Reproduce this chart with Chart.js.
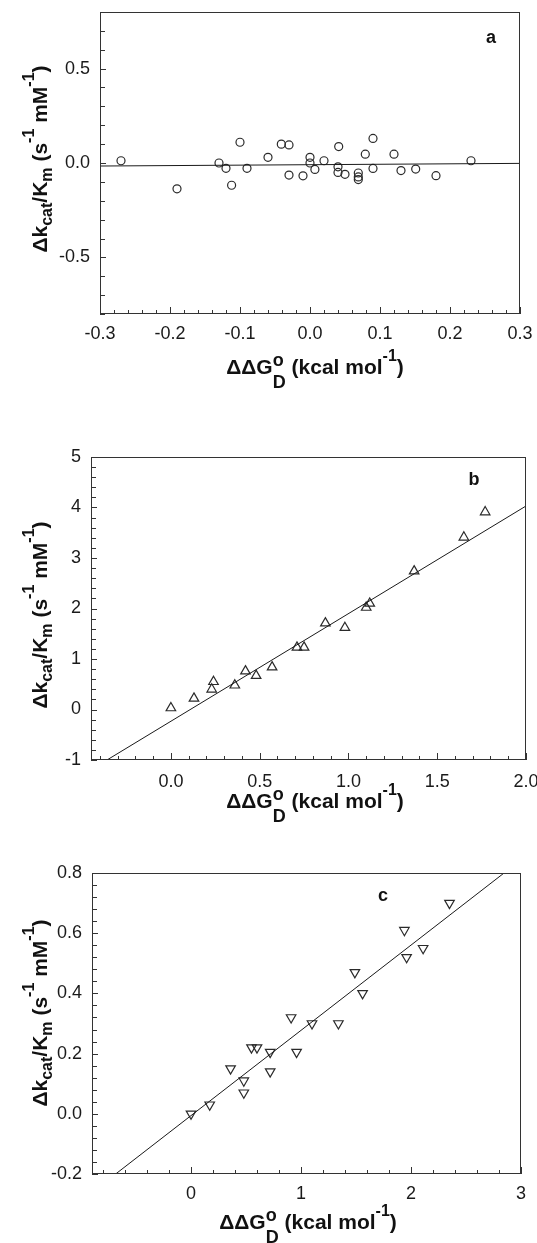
<!DOCTYPE html>
<html>
<head>
<meta charset="utf-8">
<script src="https://cdn.jsdelivr.net/npm/chart.js@4.4.1/dist/chart.umd.min.js"></script>
<style>
  html, body { margin: 0; padding: 0; background: #fff; }
  #page { position: relative; width: 537px; height: 1243px; overflow: hidden; }
  .panel { position: absolute; left: 0; width: 537px; }
  .t { position: absolute; font: bold 21px "Liberation Sans", Arial, sans-serif; color: #111;
       white-space: nowrap; line-height: 21px; }
  .sub { font-size: 16px; position: relative; top: 5px; }
  .sup { font-size: 16px; position: relative; top: -13px; }
  .so { font-size: 18px; position: relative; top: -8px; }
  .sd { font-size: 18px; position: relative; top: 14px; margin-left: -11px; }
  .xt { transform: translateX(-50%); }
  .yt { transform: translate(-50%, -50%) rotate(-90deg); }
  .lt { position: absolute; font: bold 18px "Liberation Sans", Arial, sans-serif; color: #111;
        line-height: 18px; transform: translateX(-50%); }
</style>
</head>
<body>
<div id="page">
  <div class="panel" style="top:0;height:400px"><canvas id="chartA"></canvas></div>
  <div class="panel" style="top:420px;height:400px"><canvas id="chartB"></canvas></div>
  <div class="panel" style="top:830px;height:413px"><canvas id="chartC"></canvas></div>

  <div class="t xt" style="left:315px;top:356px">ΔΔG<span class="so">o</span><span class="sd">D</span> (kcal mol<span class="sup">-1</span>)</div>
  <div class="t xt" style="left:315px;top:790px">ΔΔG<span class="so">o</span><span class="sd">D</span> (kcal mol<span class="sup">-1</span>)</div>
  <div class="t xt" style="left:308px;top:1211px">ΔΔG<span class="so">o</span><span class="sd">D</span> (kcal mol<span class="sup">-1</span>)</div>

  <div class="t yt" style="left:40px;top:159px">Δk<span class="sub">cat</span>/K<span class="sub">m</span> (s<span class="sup">-1</span> mM<span class="sup">-1</span>)</div>
  <div class="t yt" style="left:40px;top:615px">Δk<span class="sub">cat</span>/K<span class="sub">m</span> (s<span class="sup">-1</span> mM<span class="sup">-1</span>)</div>
  <div class="t yt" style="left:40px;top:1013px">Δk<span class="sub">cat</span>/K<span class="sub">m</span> (s<span class="sup">-1</span> mM<span class="sup">-1</span>)</div>

  <div class="lt" style="left:491px;top:28px">a</div>
  <div class="lt" style="left:474px;top:470px">b</div>
  <div class="lt" style="left:383px;top:886px">c</div>
</div>

<script>
// panel a: circles
const A_X = [-0.27, -0.19, -0.13, -0.12, -0.112, -0.10, -0.09, -0.06, -0.041, -0.03, -0.03, -0.01, 0.0, 0.0, 0.007,
  0.02, 0.04, 0.04, 0.041, 0.05, 0.069, 0.069, 0.069, 0.079, 0.09, 0.09, 0.12, 0.13, 0.151, 0.18, 0.23];
const A_Y = [0.012, -0.137, 0.0, -0.028, -0.118, 0.11, -0.028, 0.03, 0.10, 0.096, -0.064, -0.068, 0.03, 0.0, -0.034,
  0.012, -0.02, -0.05, 0.087, -0.06, -0.053, -0.074, -0.088, 0.047, 0.13, -0.029, 0.047, -0.04, -0.032, -0.067, 0.012];
const A_FIT_X = [-0.3, 0.3];
const A_FIT_Y = [-0.016, -0.002];
const A_XTICKS = [-0.3, -0.2, -0.1, 0.0, 0.1, 0.2, 0.3];
const A_YTICKS = [-0.5, 0.0, 0.5];

// panel b: up triangles
const B_X = [0.0, 0.13, 0.23, 0.24, 0.36, 0.42, 0.48, 0.57, 0.71, 0.75, 0.87, 0.98, 1.10, 1.12, 1.37, 1.65, 1.77];
const B_Y = [0.03, 0.22, 0.40, 0.55, 0.48, 0.76, 0.67, 0.84, 1.23, 1.23, 1.71, 1.62, 2.02, 2.10, 2.74, 3.41, 3.91];
const B_FIT_X = [-0.36, 2.0];
const B_FIT_Y = [-1.0, 4.03];
const B_XTICKS = [0.0, 0.5, 1.0, 1.5, 2.0];
const B_YTICKS = [-1, 0, 1, 2, 3, 4, 5];

// panel c: down triangles
const C_X = [0.0, 0.17, 0.36, 0.48, 0.48, 0.55, 0.60, 0.72, 0.72, 0.91, 0.96, 1.10, 1.34, 1.49, 1.56, 1.94, 1.96, 2.11, 2.35];
const C_Y = [0.0, 0.03, 0.15, 0.11, 0.07, 0.22, 0.22, 0.205, 0.14, 0.32, 0.205, 0.30, 0.30, 0.47, 0.40, 0.61, 0.52, 0.55, 0.70];
const C_FIT_X = [-0.685, 2.846];
const C_FIT_Y = [-0.2, 0.8];
const C_XTICKS = [0, 1, 2, 3];
const C_YTICKS = [-0.2, 0.0, 0.2, 0.4, 0.6, 0.8];

const INK = '#1a1a1a';
const FONT = { family: '"Liberation Sans", Arial, sans-serif', size: 18 };

const pts = (xs, ys) => xs.map((x, i) => ({ x, y: ys[i] }));

// box around the plot + inward tick marks (major on labelled values)
const frameTicks = {
  id: 'frameTicks',
  afterDraw(chart, args, opts) {
    const { ctx, chartArea: a, scales: { x, y } } = chart;
    const isMajor = (v, list) => list.some((t) => Math.abs(t - v) < 1e-6);
    ctx.save();
    ctx.strokeStyle = '#333';
    ctx.lineWidth = 1;
    ctx.strokeRect(a.left + 0.5, a.top + 0.5, a.right - a.left - 1, a.bottom - a.top - 1);
    ctx.beginPath();
    const xs = opts.xMinor;
    for (let i = Math.ceil(x.min / xs - 1e-9); i <= Math.floor(x.max / xs + 1e-9); i++) {
      const v = i * xs;
      const px = Math.round(x.getPixelForValue(v)) + 0.5;
      const len = isMajor(v, opts.xMajor) ? 7 : 4;
      ctx.moveTo(px, a.bottom);
      ctx.lineTo(px, a.bottom - len);
    }
    const ys = opts.yMinor;
    for (let i = Math.ceil(y.min / ys - 1e-9); i <= Math.floor(y.max / ys + 1e-9); i++) {
      const v = i * ys;
      const py = Math.round(y.getPixelForValue(v)) + 0.5;
      const len = isMajor(v, opts.yMajor) ? 6 : 5;
      ctx.moveTo(a.left, py);
      ctx.lineTo(a.left + len, py);
    }
    ctx.stroke();
    ctx.restore();
  }
};

function makeChart(id, cfg) {
  const marker = {
    label: 'data',
    data: pts(cfg.xs, cfg.ys),
    pointStyle: cfg.style,
    rotation: cfg.rotation || 0,
    pointRadius: cfg.radius,
    pointBorderWidth: 1.2,
    pointBorderColor: '#2a2a2a',
    pointBackgroundColor: 'rgba(0,0,0,0)',
    showLine: false
  };
  const fit = {
    label: 'fit',
    data: pts(cfg.fitX, cfg.fitY),
    showLine: true,
    borderColor: INK,
    borderWidth: 1,
    pointRadius: 0
  };
  return new Chart(document.getElementById(id), {
    type: 'scatter',
    data: { datasets: [fit, marker] },
    plugins: [frameTicks],
    options: {
      responsive: true,
      maintainAspectRatio: false,
      animation: false,
      layout: { padding: { top: cfg.top, right: cfg.right, left: 0, bottom: 0 } },
      plugins: {
        legend: { display: false },
        tooltip: { enabled: false },
        frameTicks: { xMinor: cfg.xMinor, yMinor: cfg.yMinor, xMajor: cfg.xTicks, yMajor: cfg.yTicks }
      },
      scales: {
        x: {
          type: 'linear',
          min: cfg.xMin,
          max: cfg.xMax,
          grid: { display: false, drawTicks: false },
          border: { display: false },
          afterBuildTicks: (s) => { s.ticks = cfg.xTicks.map((v) => ({ value: v })); },
          afterFit: (s) => { s.height = cfg.xAxisH; s.paddingLeft = 0; s.paddingRight = 0; },
          ticks: {
            autoSkip: false,
            maxRotation: 0,
            padding: cfg.xPad,
            color: INK,
            font: FONT,
            callback: (v) => cfg.xFmt(v)
          }
        },
        y: {
          type: 'linear',
          min: cfg.yMin,
          max: cfg.yMax,
          grid: { display: false, drawTicks: false },
          border: { display: false },
          afterBuildTicks: (s) => { s.ticks = cfg.yTicks.map((v) => ({ value: v })); },
          afterFit: (s) => { s.width = cfg.left; s.paddingTop = 0; s.paddingBottom = 0; },
          ticks: {
            autoSkip: false,
            padding: 10,
            color: INK,
            font: FONT,
            callback: (v) => cfg.yFmt(v)
          }
        }
      }
    }
  });
}

const f1 = (v) => v.toFixed(1);
const f0 = (v) => String(Math.round(v));

makeChart('chartA', {
  xs: A_X, ys: A_Y, fitX: A_FIT_X, fitY: A_FIT_Y, style: 'circle', radius: 4,
  xMin: -0.3, xMax: 0.3, yMin: -0.8, yMax: 0.8, xTicks: A_XTICKS, yTicks: A_YTICKS,
  xMinor: 0.02, yMinor: 0.1, xFmt: f1, yFmt: f1,
  top: 12, right: 17, left: 100, xAxisH: 86, xPad: 9
});

makeChart('chartB', {
  xs: B_X, ys: B_Y, fitX: B_FIT_X, fitY: B_FIT_Y, style: 'triangle', radius: 5.5,
  xMin: -0.45, xMax: 2.0, yMin: -1, yMax: 5, xTicks: B_XTICKS, yTicks: B_YTICKS,
  xMinor: 0.1, yMinor: 0.2, xFmt: f1, yFmt: f0,
  top: 37, right: 11, left: 91, xAxisH: 60, xPad: 11
});

makeChart('chartC', {
  xs: C_X, ys: C_Y, fitX: C_FIT_X, fitY: C_FIT_Y, style: 'triangle', rotation: 180, radius: 5.5,
  xMin: -0.9, xMax: 3, yMin: -0.2, yMax: 0.8, xTicks: C_XTICKS, yTicks: C_YTICKS,
  xMinor: 0.2, yMinor: 0.04, xFmt: f0, yFmt: f1,
  top: 43, right: 16, left: 92, xAxisH: 69, xPad: 9
});
</script>
</body>
</html>
